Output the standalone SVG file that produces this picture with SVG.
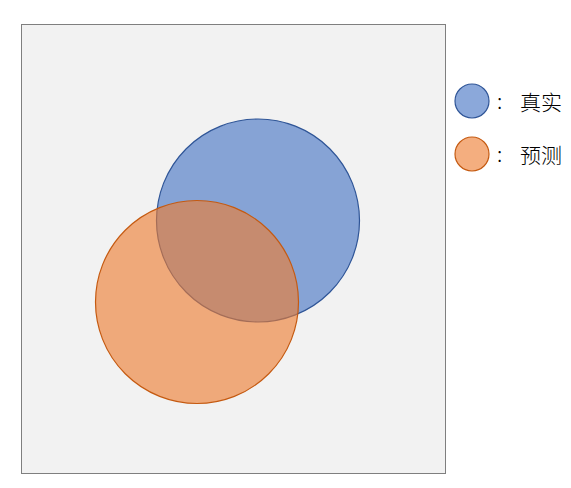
<svg xmlns="http://www.w3.org/2000/svg" width="571" height="488" viewBox="0 0 571 488">
<style>
.lbl{font-family:"Noto Sans CJK SC","Noto Sans",sans-serif;font-size:21px;font-weight:300;fill:#000}
.blue{fill:#4472c4;fill-opacity:0.62;stroke:#2f5597;stroke-width:1.2}
.orange{fill:#ed7d31;fill-opacity:0.62;stroke:#c55a11;stroke-width:1.2}
</style>
<rect x="0" y="0" width="571" height="488" fill="#ffffff"/>
<g id="frame"><rect x="21.5" y="24.5" width="424" height="449" fill="#f2f2f2" stroke="#7f7f7f" stroke-width="1"/></g>
<g id="truth"><circle class="blue" cx="258" cy="220.5" r="101.5"/></g>
<g id="pred"><circle class="orange" cx="197" cy="302" r="101.5"/></g>
<g id="legend-truth">
<circle class="blue" cx="472" cy="101" r="17"/>
<text class="lbl" x="497" y="109">:</text>
<text class="lbl" x="520" y="110">真实</text>
</g>
<g id="legend-pred">
<circle class="orange" cx="472" cy="154" r="17"/>
<text class="lbl" x="497" y="162">:</text>
<text class="lbl" x="520" y="163">预测</text>
</g>
<g id="connectors"></g>
</svg>
